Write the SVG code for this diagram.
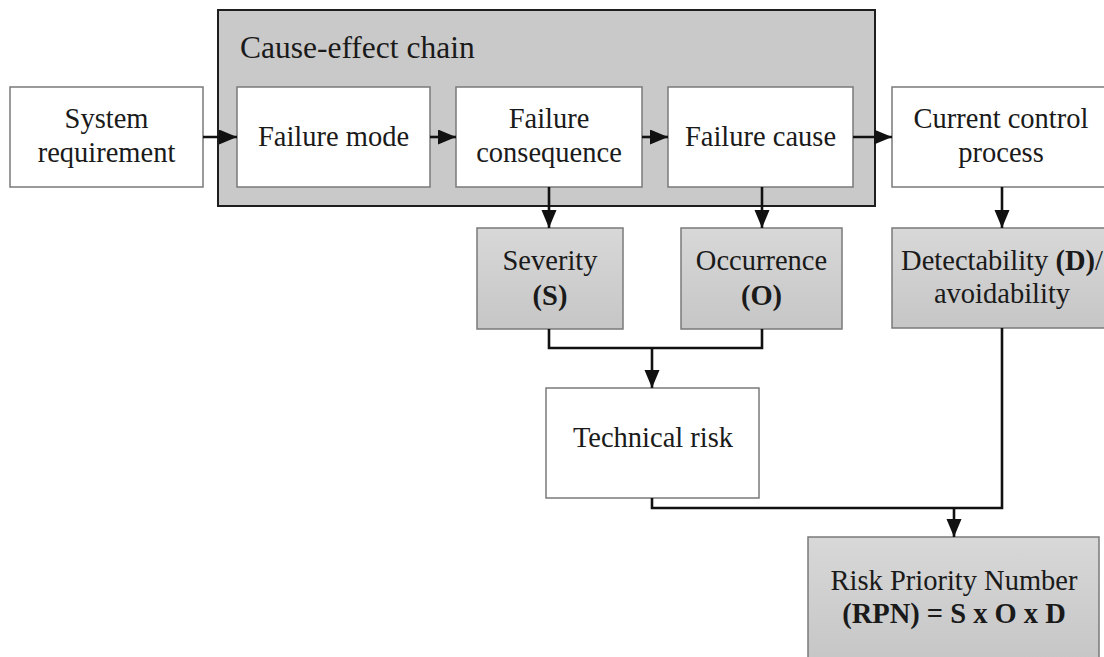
<svg xmlns="http://www.w3.org/2000/svg" width="1104" height="657" viewBox="0 0 1104 657">
<style>
.t{font-family:"Liberation Serif","Times New Roman",serif;font-size:28.5px;fill:#1a1a1a;text-anchor:middle}
.title{font-family:"Liberation Serif","Times New Roman",serif;font-size:31.5px;fill:#1a1a1a}
.b{font-weight:bold}
.wbox{fill:#ffffff;stroke:#7a7a7a;stroke-width:1.5}
.gbox{fill:url(#gg);stroke:#7a7a7a;stroke-width:1.5}
.chain{fill:#c9c9c9;stroke:#1e1e1e;stroke-width:2}
.con{fill:none;stroke:#111;stroke-width:2.6}
</style>
<defs>
<linearGradient id="gg" x1="0" y1="0" x2="0" y2="1">
<stop offset="0" stop-color="#d8d8d8"/>
<stop offset="1" stop-color="#c6c6c6"/>
</linearGradient>
<marker id="ah" markerUnits="userSpaceOnUse" markerWidth="19" markerHeight="16" refX="18" refY="7.5" orient="auto">
<path d="M0,0 L18,7.5 L0,15 z" fill="#111"/>
</marker>
</defs>
<rect width="1104" height="657" fill="#ffffff"/>

<g id="chain">
<rect class="chain" x="218" y="10" width="657" height="196"/>
<text class="title" x="240" y="58">Cause-effect chain</text>
</g>

<g id="system-requirement">
<rect class="wbox" x="10" y="87" width="193" height="100"/>
<text class="t" x="106.5" y="128">System</text>
<text class="t" x="106.5" y="162">requirement</text>
</g>

<g id="failure-mode">
<rect class="wbox" x="237" y="87" width="193" height="100"/>
<text class="t" x="333.5" y="146">Failure mode</text>
</g>

<g id="failure-consequence">
<rect class="wbox" x="456" y="87" width="186" height="100"/>
<text class="t" x="549" y="128">Failure</text>
<text class="t" x="549" y="162">consequence</text>
</g>

<g id="failure-cause">
<rect class="wbox" x="668" y="87" width="185" height="100"/>
<text class="t" x="760.5" y="146">Failure cause</text>
</g>

<g id="current-control-process">
<rect class="wbox" x="892" y="87" width="230" height="100"/>
<text class="t" x="1001" y="128">Current control</text>
<text class="t" x="1001" y="162">process</text>
</g>

<g id="severity">
<rect class="gbox" x="477" y="228" width="146" height="101"/>
<text class="t" x="550" y="270">Severity</text>
<text class="t b" x="550" y="305">(S)</text>
</g>

<g id="occurrence">
<rect class="gbox" x="681" y="228" width="161" height="101"/>
<text class="t" x="761.5" y="270">Occurrence</text>
<text class="t b" x="761.5" y="305">(O)</text>
</g>

<g id="detectability">
<rect class="gbox" x="892" y="228" width="230" height="100"/>
<text class="t" x="1002" y="270">Detectability <tspan class="b">(D)</tspan>/</text>
<text class="t" x="1002" y="303">avoidability</text>
</g>

<g id="technical-risk">
<rect class="wbox" x="546" y="388" width="213" height="110"/>
<text class="t" x="653" y="447">Technical risk</text>
</g>

<g id="rpn">
<rect class="gbox" x="808" y="537" width="291" height="125"/>
<text class="t" x="954" y="590">Risk Priority Number</text>
<text class="t b" x="954" y="623">(RPN) = S x O x D</text>
</g>

<g id="connectors">
<path class="con" d="M203,137 H237" marker-end="url(#ah)"/>
<path class="con" d="M430,137 H456" marker-end="url(#ah)"/>
<path class="con" d="M642,137 H668" marker-end="url(#ah)"/>
<path class="con" d="M853,137 H892" marker-end="url(#ah)"/>
<path class="con" d="M549,187 V228" marker-end="url(#ah)"/>
<path class="con" d="M762,187 V228" marker-end="url(#ah)"/>
<path class="con" d="M1002,187 V228" marker-end="url(#ah)"/>
<path class="con" d="M549,329 V348 H762 V329"/>
<path class="con" d="M652,348 V388" marker-end="url(#ah)"/>
<path class="con" d="M652,498 V508 H1002 V328"/>
<path class="con" d="M954,508 V537" marker-end="url(#ah)"/>
</g>
</svg>
